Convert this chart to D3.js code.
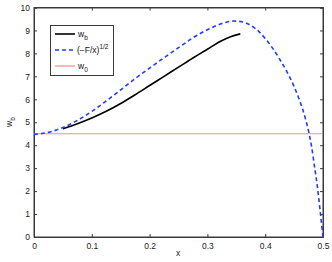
<!DOCTYPE html>
<html><head><meta charset="utf-8">
<script src="https://cdn.jsdelivr.net/npm/d3@7"></script>
<style>body{margin:0;background:#fff}svg{display:block}text{font-family:"Liberation Sans",Arial,sans-serif}</style>
</head><body><svg id="c" width="332" height="262"></svg>
<script>
const xTicks=[0,0.1,0.2,0.3,0.4,0.5];
const yTicks=[0,1,2,3,4,5,6,7,8,9,10];
const wbX=[0.05,0.075,0.1,0.125,0.15,0.175,0.2,0.225,0.25,0.275,0.3,0.322,0.34,0.357];
const wbY=[4.72,4.94,5.19,5.48,5.82,6.2,6.6,7.0,7.4,7.8,8.18,8.52,8.73,8.85];
const fX=[0,0.025,0.05,0.075,0.1,0.125,0.15,0.175,0.2,0.225,0.25,0.275,0.3,0.325,0.345,0.36,0.375,0.39,0.4,0.425,0.45,0.46,0.47,0.476,0.48,0.486,0.49,0.495,0.5];
const fY=[4.47,4.56,4.77,5.08,5.47,5.93,6.41,6.9,7.36,7.81,8.25,8.68,9.03,9.3,9.41,9.38,9.22,8.93,8.65,7.75,6.55,5.92,5.12,4.5,3.98,2.95,2.25,1.15,0];
const w0=4.5;

const svg=d3.select("#c");
const L=34,R=323,T=7.5,B=237;
const x=d3.scaleLinear().domain([0,0.5]).range([L,R]);
const y=d3.scaleLinear().domain([0,10]).range([B,T]);
const ax="#3a3a3a";
svg.append("rect").attr("x",L).attr("y",T).attr("width",R-L).attr("height",B-T).attr("fill","none").attr("stroke",ax).attr("stroke-width",1);
const xa=d3.axisBottom(x).tickValues(xTicks).tickSize(-3).tickPadding(6).tickFormat(d3.format("~g"));
const ya=d3.axisLeft(y).tickValues(yTicks).tickSize(-3).tickPadding(4).tickFormat(d3.format("d"));
const xg=svg.append("g").attr("transform",`translate(0,${B})`).call(xa);
const yg=svg.append("g").attr("transform",`translate(${L},0)`).call(ya);
const xt=svg.append("g").attr("transform",`translate(0,${T})`).call(d3.axisTop(x).tickValues(xTicks).tickSize(-3).tickFormat(""));
const yr=svg.append("g").attr("transform",`translate(${R},0)`).call(d3.axisRight(y).tickValues(yTicks).tickSize(-3).tickFormat(""));
[xg,yg,xt,yr].forEach(a=>{a.select(".domain").attr("stroke",ax);a.selectAll(".tick line").attr("stroke",ax);a.selectAll("text").attr("fill","#222").attr("font-size",8.5);});

const line=d3.line().x(d=>x(d[0])).y(d=>y(d[1])).curve(d3.curveMonotoneX);
svg.append("line").attr("x1",x(0)).attr("x2",x(0.5)).attr("y1",y(w0)).attr("y2",y(w0)).attr("stroke","#ff8c8c").attr("stroke-width",1.2);
svg.append("path").datum(wbX.map((v,i)=>[v,wbY[i]])).attr("d",line).attr("fill","none").attr("stroke","#000").attr("stroke-width",1.6);
svg.append("path").datum(fX.map((v,i)=>[v,fY[i]])).attr("d",line).attr("fill","none").attr("stroke","#1f3cff").attr("stroke-width",1.6).attr("stroke-dasharray","4,3");

const lg=svg.append("g");
lg.append("rect").attr("x",50.5).attr("y",25.5).attr("width",63).attr("height",50).attr("fill","#fff").attr("stroke",ax).attr("stroke-width",1);
const rows=[34,50,66];
const styles=[{c:"#000",d:null},{c:"#1f3cff",d:"4,3"},{c:"#ff8c8c",d:null,w:1.2}];
rows.forEach((ry,i)=>{
  lg.append("line").attr("x1",55).attr("x2",75).attr("y1",ry).attr("y2",ry).attr("stroke",styles[i].c).attr("stroke-width",styles[i].w||1.6).attr("stroke-dasharray",styles[i].d);
});
const t0=lg.append("text").attr("x",78).attr("y",rows[0]+3).attr("font-size",8.5).attr("fill","#111");
t0.append("tspan").text("w");t0.append("tspan").attr("font-size",6.5).attr("dy",3).text("b");
const t1=lg.append("text").attr("x",77).attr("y",rows[1]+3).attr("font-size",8.5).attr("fill","#111");
t1.append("tspan").text("(−F/x)");t1.append("tspan").attr("font-size",6.5).attr("dy",-4).text("1/2");
const t2=lg.append("text").attr("x",78).attr("y",rows[2]+3).attr("font-size",8.5).attr("fill","#111");
t2.append("tspan").text("w");t2.append("tspan").attr("font-size",6.5).attr("dy",3).text("0");

svg.append("text").attr("x",178).attr("y",256).attr("font-size",8.5).attr("text-anchor","middle").attr("fill","#222").text("x");
const yl=svg.append("text").attr("transform","translate(12,122) rotate(-90)").attr("font-size",8.5).attr("text-anchor","middle").attr("fill","#222");
yl.append("tspan").text("w");yl.append("tspan").attr("font-size",6.5).attr("dy",3).text("b");
</script></body></html>
